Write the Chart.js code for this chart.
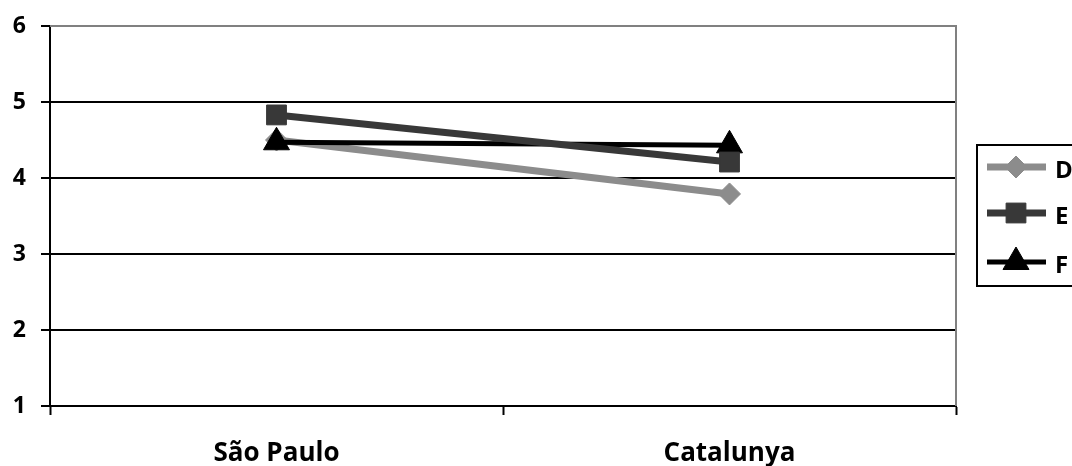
<!DOCTYPE html>
<html>
<head>
<meta charset="utf-8">
<script src="https://cdn.jsdelivr.net/npm/chart.js@4.4.0/dist/chart.umd.min.js"></script>
<style>
  html, body { margin: 0; padding: 0; background: #fff; overflow: hidden; }
  #wrap { width: 1072px; height: 466px; position: relative; }
</style>
</head>
<body>
<div id="wrap"><canvas id="c" width="1072" height="466"></canvas></div>
<script>
// Category labels and series values
const categories = ['São Paulo', 'Catalunya'];
const seriesNames = ['D', 'E', 'F'];
const valuesD = [4.50, 3.79];
const valuesE = [4.83, 4.21];
const valuesF = [4.47, 4.43];
const yMin = 1;
const yMax = 6;
const yStep = 1;

const FONT = "'Open Sans', 'DejaVu Sans', sans-serif";

// Grey frame on the top and right of the plot area
const plotFrame = {
  id: 'plotFrame',
  beforeDatasetsDraw(chart) {
    const { ctx, chartArea: a } = chart;
    ctx.save();
    ctx.strokeStyle = '#808080';
    ctx.lineWidth = 2;
    ctx.beginPath();
    ctx.moveTo(a.left, a.top);
    ctx.lineTo(a.right, a.top);
    ctx.lineTo(a.right, a.bottom);
    ctx.stroke();
    ctx.restore();
  }
};

// Boxed legend on the right side
const boxLegend = {
  id: 'boxLegend',
  afterDraw(chart) {
    const { ctx } = chart;
    const box = { x: 977, y: 145, w: 130, h: 141 };
    const rows = [167, 213, 262];
    ctx.save();
    ctx.strokeStyle = '#000';
    ctx.lineWidth = 2;
    ctx.strokeRect(box.x, box.y, box.w, box.h);
    chart.data.datasets.forEach((ds, i) => {
      const y = rows[i];
      ctx.strokeStyle = ds.borderColor;
      ctx.fillStyle = ds.backgroundColor;
      ctx.lineWidth = ds.borderWidth;
      ctx.lineCap = 'butt';
      ctx.beginPath();
      ctx.moveTo(987, y);
      ctx.lineTo(1046, y);
      ctx.stroke();
      ctx.lineWidth = 1;
      Chart.helpers.drawPoint(ctx, {
        pointStyle: ds.pointStyle,
        radius: ds.pointRadius,
        rotation: 0,
        borderWidth: 1
      }, 1016, y);
      ctx.fillStyle = '#000';
      ctx.font = 'bold 24px ' + FONT;
      ctx.textAlign = 'left';
      ctx.textBaseline = 'middle';
      ctx.fillText(ds.label, 1055, y + 4);
    });
    ctx.restore();
  }
};

new Chart(document.getElementById('c'), {
  type: 'line',
  data: {
    labels: categories,
    datasets: [
      {
        label: seriesNames[0], data: valuesD,
        borderColor: '#8c8c8c', backgroundColor: '#8c8c8c',
        borderWidth: 7, pointStyle: 'rectRot', pointRadius: 11,
        pointBorderWidth: 1, tension: 0, fill: false, order: 2
      },
      {
        label: seriesNames[1], data: valuesE,
        borderColor: '#383838', backgroundColor: '#383838',
        borderWidth: 7, pointStyle: 'rect', pointRadius: 14,
        pointBorderWidth: 1, tension: 0, fill: false, order: 0
      },
      {
        label: seriesNames[2], data: valuesF,
        borderColor: '#000000', backgroundColor: '#000000',
        borderWidth: 5, pointStyle: 'triangle', pointRadius: 15,
        pointBorderWidth: 1, tension: 0, fill: false, order: 1
      }
    ]
  },
  options: {
    responsive: false,
    animation: false,
    devicePixelRatio: 1,
    layout: { padding: { left: 0, top: 26, right: 116, bottom: 0 } },
    plugins: { legend: { display: false }, tooltip: { enabled: false } },
    scales: {
      x: {
        type: 'category',
        offset: true,
        grid: {
          offset: true, drawOnChartArea: false, drawTicks: true,
          tickLength: 9, tickColor: '#000', tickWidth: 2
        },
        border: { color: '#000', width: 2 },
        ticks: {
          color: '#000', padding: 23,
          font: { family: FONT, weight: 'bold', size: 26 }
        },
        afterFit(s) { s.height = 60; s.paddingLeft = 0; s.paddingRight = 0; }
      },
      y: {
        min: yMin, max: yMax,
        ticks: {
          stepSize: yStep, color: '#000', padding: 15,
          font: { family: FONT, weight: 'bold', size: 23 }
        },
        grid: {
          color: c => (c.tick && c.tick.value === yMax) ? '#808080' : '#000',
          lineWidth: 2, tickLength: 9, tickColor: '#000', tickWidth: 2
        },
        border: { color: '#000', width: 2 },
        afterFit(s) { s.width = 50; s.paddingTop = 0; s.paddingBottom = 0; }
      }
    }
  },
  plugins: [plotFrame, boxLegend]
});
</script>
</body>
</html>
